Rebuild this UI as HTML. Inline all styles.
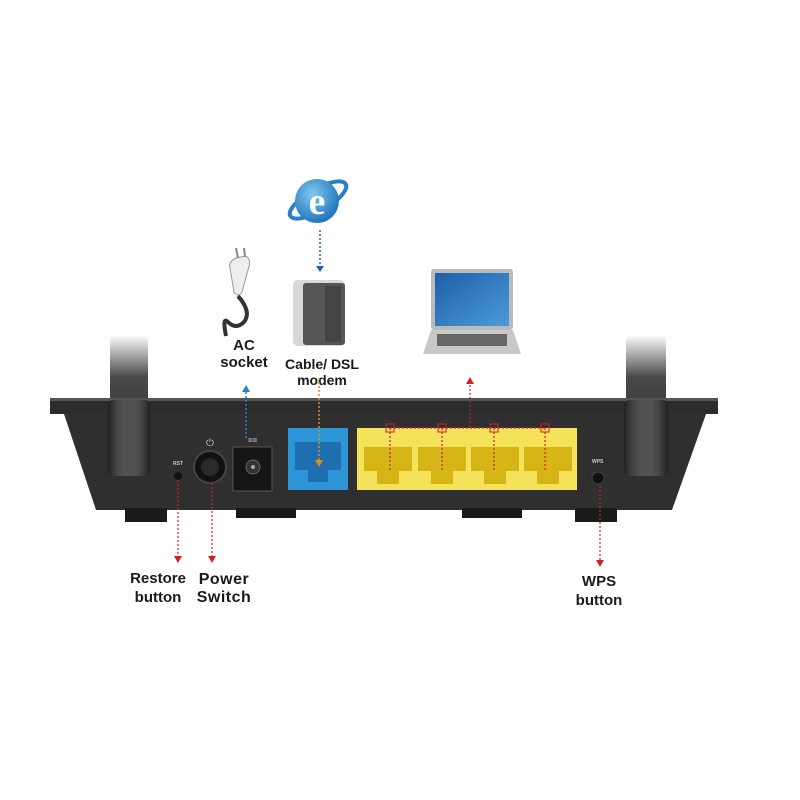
<!DOCTYPE html>
<html><head><meta charset="utf-8"><style>
html,body{margin:0;padding:0;background:#fff;}
svg{display:block;}
text{font-family:"Liberation Sans",Arial,sans-serif;font-weight:bold;fill:#1a1a1a;}
</style></head><body>
<svg width="800" height="800" viewBox="0 0 800 800" xmlns="http://www.w3.org/2000/svg">
<defs>
<linearGradient id="ant" x1="0" y1="0" x2="0" y2="1">
<stop offset="0" stop-color="#2a2a2a" stop-opacity="0"/>
<stop offset="0.3" stop-color="#2a2a2a" stop-opacity="0.85"/>
<stop offset="1" stop-color="#222"/>
</linearGradient>
<linearGradient id="antH" x1="0" y1="0" x2="1" y2="0">
<stop offset="0" stop-color="#000" stop-opacity="0.4"/>
<stop offset="0.5" stop-color="#fff" stop-opacity="0.15"/>
<stop offset="1" stop-color="#000" stop-opacity="0.4"/>
</linearGradient>
<radialGradient id="ie" cx="0.4" cy="0.35" r="0.7">
<stop offset="0" stop-color="#7fc8f0"/><stop offset="1" stop-color="#1a6fb8"/>
</radialGradient>
<linearGradient id="scr" x1="0" y1="0" x2="1" y2="1">
<stop offset="0" stop-color="#1d5fa8"/><stop offset="1" stop-color="#4d9ad8"/>
</linearGradient>
</defs>

<!-- IE logo -->
<ellipse cx="318" cy="200" rx="32" ry="11" transform="rotate(-30 318 200)" fill="none" stroke="#2b7fc6" stroke-width="4"/>
<circle cx="317" cy="201" r="22" fill="url(#ie)"/>
<text x="317" y="214" text-anchor="middle" font-size="38" style="fill:#fff;font-family:'Liberation Serif',serif">e</text>
<line x1="320" y1="230" x2="320" y2="266" stroke="#1f5ea8" stroke-width="1.5" stroke-dasharray="2,2"/>
<polygon points="316,266 324,266 320,272" fill="#1f5ea8"/>

<!-- modem -->
<rect x="293" y="280" width="52" height="66" rx="5" fill="#d8d8d8"/>
<rect x="303" y="283" width="42" height="62" rx="3" fill="#555"/>
<rect x="325" y="286" width="16" height="56" fill="#444"/>

<!-- plug -->
<path d="M238 296 Q252 312 244 322 Q236 330 228 322 Q222 316 226 336" fill="none" stroke="#333" stroke-width="4"/>
<path d="M230 268 Q228 262 236 258 L246 256 Q252 260 248 270 L242 292 Q238 298 234 292 Z" fill="#eee" stroke="#999"/>
<line x1="238" y1="258" x2="236" y2="248" stroke="#888" stroke-width="2"/>
<line x1="245" y1="257" x2="244" y2="248" stroke="#888" stroke-width="2"/>

<!-- laptop -->
<rect x="431" y="269" width="82" height="61" rx="3" fill="#bbb"/>
<rect x="435" y="273" width="74" height="53" fill="url(#scr)"/>
<path d="M431 330 L513 330 L521 354 L423 354 Z" fill="#c8c8c8"/>
<rect x="437" y="334" width="70" height="12" fill="#666"/>

<!-- labels top -->
<text x="244" y="350" text-anchor="middle" font-size="15">AC</text>
<text x="244" y="367" text-anchor="middle" font-size="15">socket</text>
<text x="322" y="369" text-anchor="middle" font-size="14">Cable/ DSL</text>
<text x="322" y="385" text-anchor="middle" font-size="14">modem</text>

<!-- antennas -->
<rect x="110" y="335" width="38" height="140" rx="4" fill="url(#ant)"/>
<rect x="626" y="335" width="40" height="140" rx="4" fill="url(#ant)"/>

<!-- router lid -->
<rect x="50" y="398" width="668" height="16" fill="#2c2c2c"/>
<rect x="50" y="398" width="668" height="3" fill="#555"/>
<!-- body -->
<path d="M64 414 L706 414 L672 510 L96 510 Z" fill="#2f2f2f"/>
<!-- feet -->
<rect x="125" y="508" width="42" height="14" fill="#1a1a1a"/>
<rect x="236" y="508" width="60" height="10" fill="#1a1a1a"/>
<rect x="462" y="508" width="60" height="10" fill="#1a1a1a"/>
<rect x="575" y="508" width="42" height="14" fill="#1a1a1a"/>
<!-- antenna bases -->
<rect x="108" y="400" width="42" height="76" rx="5" fill="#333"/>
<rect x="108" y="400" width="42" height="76" rx="5" fill="url(#antH)"/>
<rect x="624" y="400" width="44" height="76" rx="5" fill="#333"/>
<rect x="624" y="400" width="44" height="76" rx="5" fill="url(#antH)"/>

<!-- restore -->
<text x="173" y="465" font-size="5" style="fill:#ccc">RST</text>
<circle cx="178" cy="476" r="4" fill="#111"/>
<!-- power -->
<circle cx="210" cy="467" r="16" fill="#111" stroke="#444" stroke-width="2"/>
<circle cx="210" cy="467" r="9" fill="#2a2a2a"/>
<text x="210" y="446" text-anchor="middle" font-size="10" style="fill:#ccc;font-weight:normal">⏻</text>
<!-- DC -->
<rect x="233" y="447" width="39" height="44" fill="#151515" stroke="#555"/>
<circle cx="253" cy="467" r="7" fill="#333" stroke="#666"/>
<circle cx="253" cy="467" r="2" fill="#aaa"/>
<text x="248" y="443" font-size="8" style="fill:#ccc">==</text>
<!-- WAN -->
<rect x="288" y="428" width="60" height="62" fill="#2b95d8"/>
<rect x="295" y="442" width="46" height="28" fill="#1d6fb0"/>
<rect x="308" y="470" width="20" height="12" fill="#1d6fb0"/>
<line x1="319" y1="378" x2="319" y2="462" stroke="#e08a1a" stroke-width="1.5" stroke-dasharray="2,2"/>
<polygon points="315,460 323,460 319,467" fill="#e08a1a"/>
<line x1="246" y1="392" x2="246" y2="440" stroke="#2b7fc6" stroke-width="1.5" stroke-dasharray="2,2"/>
<polygon points="242,392 250,392 246,385" fill="#2b7fc6"/>

<!-- LAN -->
<rect x="357" y="428" width="220" height="62" fill="#f3e25a"/>
<g fill="#d5b415">
<rect x="364" y="447" width="48" height="24"/><rect x="377" y="471" width="22" height="13"/>
<rect x="418" y="447" width="48" height="24"/><rect x="431" y="471" width="22" height="13"/>
<rect x="471" y="447" width="48" height="24"/><rect x="484" y="471" width="22" height="13"/>
<rect x="524" y="447" width="48" height="24"/><rect x="537" y="471" width="22" height="13"/>
</g>
<g stroke="#d0202a" stroke-width="1.2" stroke-dasharray="2,2" fill="none">
<line x1="390" y1="428" x2="545" y2="428"/>
<line x1="390" y1="428" x2="390" y2="470"/>
<line x1="442" y1="428" x2="442" y2="470"/>
<line x1="494" y1="428" x2="494" y2="470"/>
<line x1="545" y1="428" x2="545" y2="470"/>
<line x1="470" y1="385" x2="470" y2="428"/>
<line x1="178" y1="480" x2="178" y2="556"/>
<line x1="212" y1="483" x2="212" y2="556"/>
<line x1="600" y1="486" x2="600" y2="560"/>
</g>
<g fill="none" stroke="#d0202a" stroke-width="1">
<rect x="386" y="424" width="8" height="8"/><rect x="438" y="424" width="8" height="8"/>
<rect x="490" y="424" width="8" height="8"/><rect x="541" y="424" width="8" height="8"/>
</g>
<polygon points="466,384 474,384 470,377" fill="#d0202a"/>
<polygon points="174,556 182,556 178,563" fill="#d0202a"/>
<polygon points="208,556 216,556 212,563" fill="#d0202a"/>
<polygon points="596,560 604,560 600,567" fill="#d0202a"/>

<!-- WPS -->
<text x="592" y="463" font-size="5" style="fill:#ccc">WPS</text>
<circle cx="598" cy="478" r="6" fill="#111" stroke="#444"/>

<!-- bottom labels -->
<text x="158" y="583" text-anchor="middle" font-size="15">Restore</text>
<text x="158" y="602" text-anchor="middle" font-size="15">button</text>
<text x="224" y="584" text-anchor="middle" font-size="16" letter-spacing="0.5">Power</text>
<text x="224" y="602" text-anchor="middle" font-size="16" letter-spacing="0.5">Switch</text>
<text x="599" y="586" text-anchor="middle" font-size="15">WPS</text>
<text x="599" y="605" text-anchor="middle" font-size="15">button</text>
</svg>
</body></html>
